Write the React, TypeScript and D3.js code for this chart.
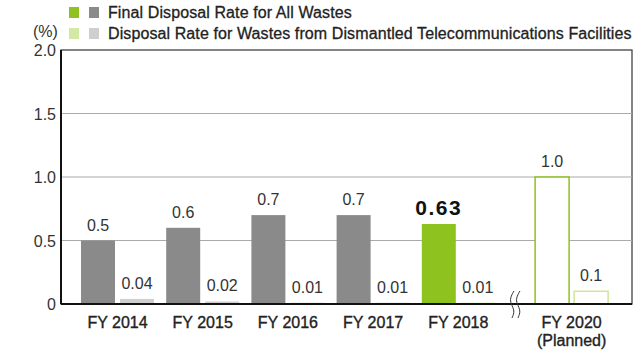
import { useEffect, useRef } from 'react';
import * as d3 from 'd3';

// chart data
const categories = ['FY 2014', 'FY 2015', 'FY 2016', 'FY 2017', 'FY 2018', 'FY 2020'];
const subLabels = ['', '', '', '', '', '(Planned)'];
const slots = [0, 1, 2, 3, 4, 5.33]; // FY 2020 sits after the axis break
const allWastes = [0.5, 0.6, 0.7, 0.7, 0.63, 1.0];
const allWastesText = ['0.5', '0.6', '0.7', '0.7', '0.63', '1.0'];
const telecomWastes = [0.04, 0.02, 0.01, 0.01, 0.01, 0.1];
const telecomText = ['0.04', '0.02', '0.01', '0.01', '0.01', '0.1'];
const yTicks = [0, 0.5, 1.0, 1.5, 2.0];
const yTickText = ['0', '0.5', '1.0', '1.5', '2.0'];
const legendItems = [
  'Final Disposal Rate for All Wastes',
  'Disposal Rate for Wastes from Dismantled Telecommunications Facilities',
];

const FONT = '"Liberation Sans", Arial, sans-serif';

const App = () => {
  const svgRef = useRef<SVGSVGElement>(null);

  useEffect(() => {
    if (!svgRef.current) return;
    const svg = d3.select(svgRef.current);
    svg.selectAll('*').remove();

    const left = 61;
    const right = 632;
    const top = 50;
    const bottom = 304;

    const y = d3.scaleLinear().domain([0, 2]).range([bottom, top]);
    // x gives the left edge of each group's first bar
    const x = d3.scaleLinear().domain([0, 5]).range([81, 507]);
    const barW = 34;
    const gap = 5;

    // frame
    svg.append('rect')
      .attr('x', left).attr('y', top)
      .attr('width', right - left).attr('height', bottom - top)
      .attr('fill', 'none').attr('stroke', '#333').attr('stroke-width', 1.2);

    // grid
    svg.selectAll('.grid')
      .data(yTicks.filter(d => d > 0 && d < 2))
      .enter().append('line')
      .attr('x1', left).attr('x2', right)
      .attr('y1', d => y(d)).attr('y2', d => y(d))
      .attr('stroke', '#aaa').attr('stroke-width', 1);

    // y tick labels
    svg.selectAll('.ylab')
      .data(yTicks)
      .enter().append('text')
      .attr('x', 56).attr('y', d => y(d) + 6)
      .attr('text-anchor', 'end')
      .attr('font-family', FONT).attr('font-size', 16)
      .attr('fill', '#333')
      .text((d, i) => yTickText[i]);

    svg.append('text')
      .attr('x', 33).attr('y', 37)
      .attr('font-family', FONT).attr('font-size', 16).attr('fill', '#333')
      .text('(%)');

    // bars
    const groups = svg.selectAll('.grp')
      .data(categories)
      .enter().append('g');

    groups.append('rect')
      .attr('x', (d, i) => x(slots[i]))
      .attr('y', (d, i) => y(allWastes[i]))
      .attr('width', barW)
      .attr('height', (d, i) => bottom - y(allWastes[i]))
      .attr('fill', (d, i) => (i === 5 ? '#fff' : i === 4 ? '#8dc21f' : '#8a8a8a'))
      .attr('stroke', (d, i) => (i === 5 ? '#8dc21f' : 'none'))
      .attr('stroke-width', 1.5);

    groups.append('rect')
      .attr('x', (d, i) => x(slots[i]) + barW + gap)
      .attr('y', (d, i) => y(telecomWastes[i]))
      .attr('width', barW)
      .attr('height', (d, i) => bottom - y(telecomWastes[i]))
      .attr('fill', (d, i) => (i === 5 ? '#fff' : i === 4 ? '#d4e8a6' : '#cfcfcf'))
      .attr('stroke', (d, i) => (i === 5 ? '#cfe59a' : 'none'))
      .attr('stroke-width', 1.5);

    // value labels
    groups.append('text')
      .attr('x', (d, i) => x(slots[i]) + barW / 2)
      .attr('y', (d, i) => y(allWastes[i]) - (i === 4 ? 9 : 10))
      .attr('text-anchor', 'middle')
      .attr('font-family', FONT)
      .attr('font-size', (d, i) => (i === 4 ? 21 : 16))
      .attr('font-weight', (d, i) => (i === 4 ? 'bold' : 'normal'))
      .attr('letter-spacing', (d, i) => (i === 4 ? 1.5 : 0))
      .attr('fill', (d, i) => (i === 4 ? '#111' : '#333'))
      .text((d, i) => allWastesText[i]);

    groups.append('text')
      .attr('x', (d, i) => x(slots[i]) + barW + gap + barW / 2)
      .attr('y', (d, i) => y(telecomWastes[i]) - 10)
      .attr('text-anchor', 'middle')
      .attr('font-family', FONT).attr('font-size', 16)
      .attr('fill', '#333')
      .text((d, i) => telecomText[i]);

    // category labels
    groups.append('text')
      .attr('x', (d, i) => x(slots[i]) + barW + gap / 2)
      .attr('y', 328)
      .attr('text-anchor', 'middle')
      .attr('font-family', FONT).attr('font-size', 16)
      .attr('fill', '#222').attr('stroke', '#222').attr('stroke-width', 0.35)
      .text(d => d);

    groups.append('text')
      .attr('x', (d, i) => x(slots[i]) + barW + gap / 2)
      .attr('y', 346)
      .attr('text-anchor', 'middle')
      .attr('font-family', FONT).attr('font-size', 16)
      .attr('fill', '#222').attr('stroke', '#222').attr('stroke-width', 0.35)
      .text((d, i) => subLabels[i]);

    // axes
    svg.append('line')
      .attr('x1', left).attr('x2', right)
      .attr('y1', bottom).attr('y2', bottom)
      .attr('stroke', '#111').attr('stroke-width', 2);
    svg.append('line')
      .attr('x1', left).attr('x2', left)
      .attr('y1', top).attr('y2', bottom)
      .attr('stroke', '#111').attr('stroke-width', 2);

    // axis break mark
    const bx = (x(4) + barW * 2 + gap + x(slots[5])) / 2;
    const wave = d3.line<[number, number]>().curve(d3.curveBasis);
    [-3, 3].forEach(off => {
      svg.append('path')
        .attr('d', wave([
          [bx + off + 2, 291],
          [bx + off - 2, 298],
          [bx + off - 1, 304],
          [bx + off + 3, 311],
          [bx + off, 318],
        ]))
        .attr('fill', 'none').attr('stroke', '#333').attr('stroke-width', 1);
    });

    // legend
    const legendColors = [['#8dc21f', '#8a8a8a'], ['#d4e8a6', '#cfcfcf']];
    legendItems.forEach((label, i) => {
      const ly = 7 + i * 21;
      legendColors[i].forEach((c, j) => {
        svg.append('rect')
          .attr('x', 69 + j * 20).attr('y', ly)
          .attr('width', 10).attr('height', 11)
          .attr('fill', c);
      });
      svg.append('text')
        .attr('x', 108).attr('y', ly + 11)
        .attr('font-family', FONT).attr('font-size', 16)
        .attr('letter-spacing', 0.1)
        .attr('fill', '#222').attr('stroke', '#222').attr('stroke-width', 0.3)
        .text(label);
    });
  }, []);

  return (
    <svg
      ref={svgRef}
      width={640}
      height={364}
      style={{ position: 'absolute', left: 0, top: 0, background: '#fff' }}
    />
  );
};

export default App;
